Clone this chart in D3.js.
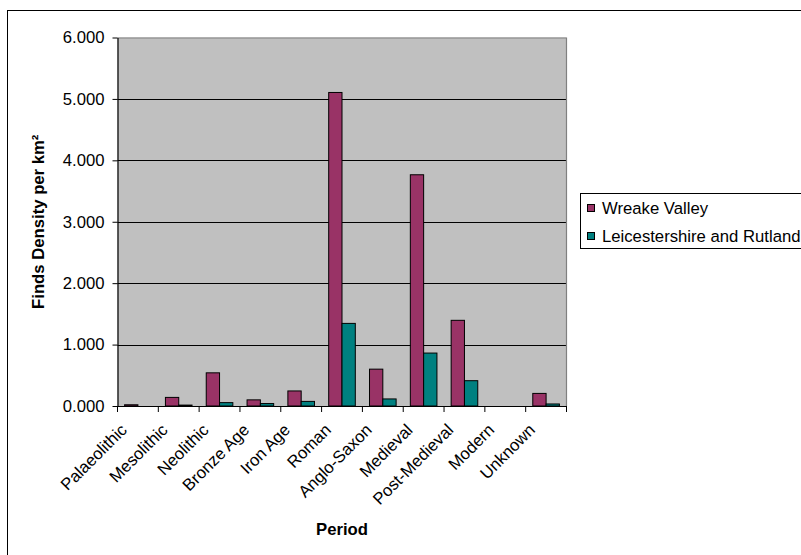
<!DOCTYPE html>
<html>
<head>
<meta charset="utf-8">
<script src="https://cdn.jsdelivr.net/npm/d3@7"></script>
<style>
  html, body { margin: 0; padding: 0; background: #fff; }
  svg { display: block; font-family: "Liberation Sans", Arial, sans-serif; }
</style>
</head>
<body>
<svg id="chart" width="801" height="555"></svg>
<script>
// Finds density per km² by archaeological period
const periods = ["Palaeolithic", "Mesolithic", "Neolithic", "Bronze Age", "Iron Age",
                 "Roman", "Anglo-Saxon", "Medieval", "Post-Medieval", "Modern", "Unknown"];
const seriesNames = ["Wreake Valley", "Leicestershire and Rutland"];
const wreakeValley = [0.02, 0.14, 0.54, 0.10, 0.245, 5.105, 0.60, 3.765, 1.395, 0, 0.205];
const leicsRutland = [0, 0.015, 0.055, 0.04, 0.075, 1.345, 0.115, 0.862, 0.412, 0, 0.033];
const yTicks = [0, 1, 2, 3, 4, 5, 6];
const seriesColors = ["#993366", "#008080"];

const FS = 16.7;
const svg = d3.select("#chart");
const plot = { left: 117.5, right: 566.5, top: 37.5, bottom: 406 };

// outer chart frame
svg.append("rect")
  .attr("x", 7.5).attr("y", 10.5).attr("width", 900).attr("height", 900)
  .attr("fill", "#fff").attr("stroke", "#000").attr("stroke-width", 1);

const x0 = d3.scaleBand().domain(periods).range([plot.left, plot.right]).paddingInner(0).paddingOuter(0);
const x1 = d3.scaleBand().domain(seriesNames).range([0, x0.bandwidth()]).paddingInner(0).paddingOuter(0.534);
const y = d3.scaleLinear().domain([0, 6]).range([plot.bottom, plot.top]);

// plot background
svg.append("rect")
  .attr("x", plot.left).attr("y", plot.top)
  .attr("width", plot.right - plot.left).attr("height", plot.bottom - plot.top)
  .attr("fill", "#c0c0c0");

// horizontal gridlines
svg.append("g").selectAll("line").data(yTicks.slice(1, -1)).join("line")
  .attr("x1", plot.left).attr("x2", plot.right)
  .attr("y1", d => Math.round(y(d)) + 0.5).attr("y2", d => Math.round(y(d)) + 0.5)
  .attr("stroke", "#000").attr("stroke-width", 1);

// plot frame top / right
svg.append("path")
  .attr("d", `M${plot.left},${plot.top + 0.5}H${plot.right}V${plot.bottom}`)
  .attr("fill", "none").attr("stroke", "#808080").attr("stroke-width", 1.2);

// bars
const rows = periods.map((p, i) => ({ period: p, values: [wreakeValley[i], leicsRutland[i]] }));
const groups = svg.append("g").selectAll("g").data(rows).join("g")
  .attr("transform", d => `translate(${x0(d.period)},0)`);
groups.selectAll("rect")
  .data(d => d.values.map((v, k) => ({ key: seriesNames[k], value: v, k })).filter(e => e.value > 0))
  .join("rect")
  .attr("x", d => x1(d.key))
  .attr("width", x1.bandwidth())
  .attr("y", d => y(d.value))
  .attr("height", d => y(0) - y(d.value))
  .attr("fill", d => seriesColors[d.k])
  .attr("stroke", "#000").attr("stroke-width", 1);

// y axis
const yAxis = d3.axisLeft(y).tickValues(yTicks).tickSize(5).tickSizeOuter(0).tickPadding(8)
  .tickFormat(d3.format(".3f"));
const gy = svg.append("g").attr("transform", `translate(${plot.left},0)`).call(yAxis);
gy.select(".domain").attr("stroke", "#000").attr("stroke-width", 1.2);
gy.selectAll(".tick line").attr("stroke", "#000");
gy.selectAll(".tick text").attr("font-size", FS).attr("fill", "#000")
  .attr("font-family", "'Liberation Sans', Arial, sans-serif");

// x axis with ticks on category boundaries
const gx = svg.append("g").attr("transform", `translate(0,${plot.bottom})`);
gx.append("line").attr("x1", plot.left).attr("x2", plot.right + 0.5)
  .attr("y1", 0.5).attr("y2", 0.5).attr("stroke", "#000").attr("stroke-width", 1.2);
const bounds = periods.map(p => x0(p)).concat([plot.right]);
gx.selectAll("line.tk").data(bounds).join("line").attr("class", "tk")
  .attr("x1", d => d).attr("x2", d => d).attr("y1", 0).attr("y2", 6)
  .attr("stroke", "#000");
gx.selectAll("text").data(periods).join("text")
  .attr("transform", d => `translate(${x0(d) + x0.bandwidth() / 2 - 10},25) rotate(-45)`)
  .attr("text-anchor", "end")
  .attr("font-size", FS).attr("fill", "#000")
  .text(d => d);

// axis titles
svg.append("text")
  .attr("x", (plot.left + plot.right) / 2).attr("y", 535)
  .attr("text-anchor", "middle").attr("font-size", FS).attr("font-weight", "bold")
  .text("Period");
svg.append("text")
  .attr("transform", `translate(44,${(plot.top + plot.bottom) / 2}) rotate(-90)`)
  .attr("text-anchor", "middle").attr("font-size", FS).attr("font-weight", "bold")
  .text("Finds Density per km²");

// legend
const legend = svg.append("g");
legend.append("rect").attr("x", 580.5).attr("y", 193.5).attr("width", 260).attr("height", 55)
  .attr("fill", "#fff").attr("stroke", "#000").attr("stroke-width", 1);
const items = legend.selectAll("g").data(seriesNames).join("g")
  .attr("transform", (d, i) => `translate(587,${208 + i * 28})`);
items.append("rect").attr("x", 0.5).attr("y", -3.5).attr("width", 7).attr("height", 7)
  .attr("fill", (d, i) => seriesColors[i]).attr("stroke", "#000");
items.append("text").attr("x", 15).attr("y", 6).attr("font-size", FS).attr("fill", "#000")
  .text(d => d);
</script>
</body>
</html>
